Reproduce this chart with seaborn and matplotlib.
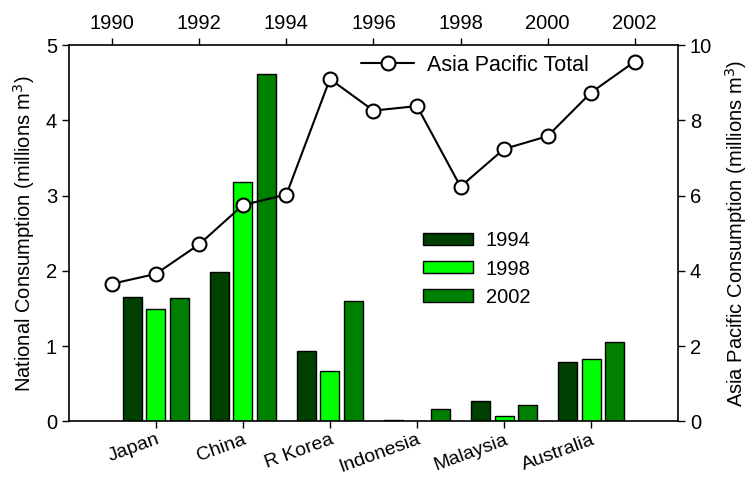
import matplotlib
matplotlib.use("Agg")
import matplotlib.pyplot as plt
from matplotlib.patches import Patch
import seaborn as sns
import pandas as pd

# National consumption by country (millions m^3)
countries = ["Japan", "China", "R Korea", "Indonesia", "Malaysia", "Australia"]
cons_1994 = [1.65, 1.98, 0.93, 0.02, 0.27, 0.79]
cons_1998 = [1.50, 3.18, 0.665, 0.005, 0.075, 0.83]
cons_2002 = [1.64, 4.62, 1.60, 0.16, 0.22, 1.05]

# Asia Pacific total by year (millions m^3)
years = [1990, 1991, 1992, 1993, 1994, 1995, 1996, 1997, 1998, 1999, 2000, 2001, 2002]
asia_total = [3.66, 3.92, 4.71, 5.75, 6.03, 9.10, 8.26, 8.38, 6.24, 7.24, 7.58, 8.74, 9.56]

series_names = ["1994", "1998", "2002"]
colors = {"1994": "#004000", "1998": "#00ff00", "2002": "#008000"}

FS = 14.5

sns.set_style("ticks")
plt.rcParams["font.family"] = ["Liberation Sans", "DejaVu Sans"]
plt.rcParams.update({
    "font.size": FS,
    "text.color": "black",
    "axes.labelcolor": "black",
    "axes.edgecolor": "black",
    "xtick.color": "black",
    "ytick.color": "black",
    "axes.linewidth": 1.2,
    "xtick.major.width": 1.0,
    "ytick.major.width": 1.0,
    "xtick.major.size": 5,
    "ytick.major.size": 5,
})

bars = pd.DataFrame({
    "Country": countries * 3,
    "Year": sum([[s] * len(countries) for s in series_names], []),
    "Consumption": cons_1994 + cons_1998 + cons_2002,
})
line = pd.DataFrame({"Year": years, "Total": asia_total})

fig = plt.figure(figsize=(7.56, 4.80), dpi=100)
pos = [0.091, 0.122, 0.806, 0.784]
ax = fig.add_axes(pos)

sns.barplot(data=bars, x="Country", y="Consumption", hue="Year",
            hue_order=series_names, palette=colors, order=countries,
            saturation=1, width=0.8, gap=0.18, edgecolor="black",
            linewidth=1.0, errorbar=None, legend=False, ax=ax)
ax.set_xlim(-1, 6)
ax.set_ylim(0, 5)
ax.set_yticks([0, 1, 2, 3, 4, 5])
ax.set_xlabel("")
ax.set_ylabel("National Consumption (millions m$^3$)", fontsize=FS, labelpad=6)
ax.set_xticks(range(len(countries)))
ax.set_xticklabels(countries, rotation=20, ha="right", rotation_mode="anchor")
ax.tick_params(axis="both", labelsize=FS, direction="out")
ax.tick_params(axis="x", pad=2, labelsize=14)
for s in ["top", "right"]:
    ax.spines[s].set_visible(False)

handles = [Patch(facecolor=colors[s], edgecolor="black", linewidth=1.0, label=s)
           for s in series_names]
ax.legend(handles=handles, loc="center left", bbox_to_anchor=(0.552, 0.405),
          frameon=False, fontsize=FS, handlelength=2.45, handleheight=0.55,
          labelspacing=0.45, handletextpad=0.65)

# Asia Pacific total on the top/right axes
ax2 = fig.add_axes(pos, facecolor="none")
sns.lineplot(data=line, x="Year", y="Total", ax=ax2, color="black",
             linewidth=1.5, marker="o", markersize=10, markerfacecolor="white",
             markeredgecolor="black", markeredgewidth=1.5,
             label="Asia Pacific Total")
ax2.set_xlim(1989, 2003)
ax2.set_ylim(0, 10)
ax2.set_xticks(range(1990, 2003, 2))
ax2.set_yticks(range(0, 11, 2))
ax2.xaxis.tick_top()
ax2.yaxis.tick_right()
ax2.yaxis.set_label_position("right")
ax2.set_xlabel("")
ax2.set_ylabel("Asia Pacific Consumption (millions m$^3$)", fontsize=FS, labelpad=8)
ax2.tick_params(axis="both", labelsize=FS, direction="out")
for s in ["left", "bottom"]:
    ax2.spines[s].set_visible(False)
ax2.legend(loc="center left", bbox_to_anchor=(0.448, 0.947), frameon=False,
           fontsize=15.5, handlelength=2.45, handletextpad=0.6)

fig.savefig("out.png", dpi=100)
